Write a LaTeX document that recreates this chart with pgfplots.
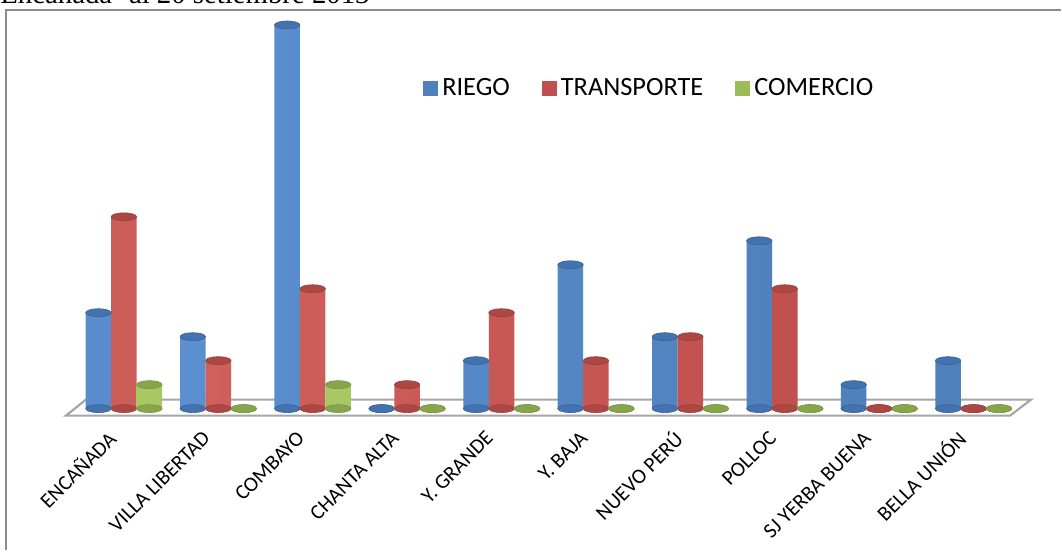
\documentclass[border=0pt]{standalone}
\usepackage{pgfplots}
\pgfplotsset{compat=1.18}
\usepackage{pgfplotstable}
\usepackage{fontspec}
\setmainfont{Carlito}
\newfontfamily\titlefont{Liberation Serif}

% series colours
\definecolor{bM}{HTML}{4F81BD}
\definecolor{bD}{HTML}{3A6398}
\definecolor{bL}{HTML}{5C8FD0}
\definecolor{bC}{HTML}{4372AE}
\definecolor{rM}{HTML}{C0504D}
\definecolor{rD}{HTML}{99403D}
\definecolor{rL}{HTML}{D0605C}
\definecolor{rC}{HTML}{AD4744}
\definecolor{gM}{HTML}{9BBB59}
\definecolor{gD}{HTML}{7C9547}
\definecolor{gL}{HTML}{AACB66}
\definecolor{gC}{HTML}{87A64B}
\definecolor{frame}{HTML}{8C8C8C}
\definecolor{floor}{HTML}{A6A6A6}

% rounded cylinder bodies: dark edges, light band left of centre
\pgfdeclarehorizontalshading{cylblue}{100bp}{color(0bp)=(bD); color(8bp)=(bM); color(30bp)=(bL); color(65bp)=(bM); color(88bp)=(bM); color(100bp)=(bD)}
\pgfdeclarehorizontalshading{cylred}{100bp}{color(0bp)=(rD); color(8bp)=(rM); color(30bp)=(rL); color(65bp)=(rM); color(88bp)=(rM); color(100bp)=(rD)}
\pgfdeclarehorizontalshading{cylgreen}{100bp}{color(0bp)=(gD); color(8bp)=(gM); color(30bp)=(gL); color(65bp)=(gM); color(88bp)=(gM); color(100bp)=(gD)}

% elliptic end of a cylinder
\pgfdeclareplotmark{cylend}{%
  \pgfpathellipse{\pgfpointorigin}{\pgfqpoint{6.375pt}{0pt}}{\pgfqpoint{0pt}{2pt}}%
  \pgfusepathqfillstroke}

\pgfplotstableread{
idx riego transporte comercio
0   4     8          1
1   3     2          0
2   16    5          1
3   0     1          0
4   2     4          0
5   6     2          0
6   3     3          0
7   7     5          0
8   1     0          0
9   2     0          0
}\datos

\begin{document}
\begin{tikzpicture}[x=0.5pt,y=0.5pt]
\fill[white] (0,0) rectangle (1062,551);

% heading above the chart area, its upper part falls beyond the page
\node[overlay, anchor=base west, inner sep=0pt, font=\titlefont\fontsize{14.4}{16}\selectfont]
  at (0,547) {Encañada- al 20 setiembre 2013};

% chart area border
\draw[frame, line width=1pt] (6,0) -- (6,541) -- (1062,541);

\begin{axis}[
  at={(26.5625pt,59pt)}, anchor=south west,
  x=47.25pt, y=12pt,
  xmin=-0.75, xmax=9.75, ymin=-1.0, ymax=16.6,
  enlargelimits=false, clip=false,
  axis line style={draw=none},
  major tick length=0pt,
  ytick=\empty,
  xtick={0,...,9},
  xticklabels={ENCAÑADA,VILLA LIBERTAD,COMBAYO,CHANTA ALTA,Y. GRANDE,Y. BAJA,NUEVO PERÚ,POLLOC,SJ YERBA BUENA,BELLA UNIÓN},
  xticklabel style={rotate=45, anchor=east, xshift=-1.5pt, yshift=3.5pt, font=\fontsize{10.5}{12}\selectfont},
  legend columns=3,
  legend style={draw=none, fill=none, at={(0.367,0.815)}, anchor=west,
    font=\fontsize{13.2}{15}\selectfont,
    /tikz/every even column/.append style={column sep=14pt}},
  legend image code/.code={\fill[#1, draw=none] (0pt,-3.75pt) rectangle (7.5pt,3.75pt);},
]
% floor of the plot area
\addplot[draw=floor, line width=1.1pt, fill=white, forget plot]
  coordinates {(-0.614,-0.292) (9.386,-0.292) (9.608,0.375) (-0.402,0.375)} -- cycle;

% lower ends of the cylinders
\addplot[only marks, mark=cylend, mark options={fill=bC, draw=bD, line width=0.3pt}, forget plot]
  table[x expr=\thisrow{idx}-0.2698, y expr=0]{\datos};
\addplot[only marks, mark=cylend, mark options={fill=rC, draw=rD, line width=0.3pt}, forget plot]
  table[x expr=\thisrow{idx}, y expr=0]{\datos};
\addplot[only marks, mark=cylend, mark options={fill=gC, draw=gD, line width=0.3pt}, forget plot]
  table[x expr=\thisrow{idx}+0.2698, y expr=0]{\datos};

% cylinder bodies
\addplot[ybar, bar width=12.75pt, bar shift=-12.75pt, draw=none, shading=cylblue, forget plot]
  table[x=idx, y=riego]{\datos};
\addplot[ybar, bar width=12.75pt, bar shift=0pt, draw=none, shading=cylred, forget plot]
  table[x=idx, y=transporte]{\datos};
\addplot[ybar, bar width=12.75pt, bar shift=12.75pt, draw=none, shading=cylgreen, forget plot]
  table[x=idx, y=comercio]{\datos};

% upper ends of the cylinders
\addplot[only marks, mark=cylend, mark options={fill=bC, draw=bD, line width=0.3pt}, forget plot]
  table[x expr=\thisrow{idx}-0.2698, y=riego]{\datos};
\addplot[only marks, mark=cylend, mark options={fill=rC, draw=rD, line width=0.3pt}, forget plot]
  table[x expr=\thisrow{idx}, y=transporte]{\datos};
\addplot[only marks, mark=cylend, mark options={fill=gC, draw=gD, line width=0.3pt}, forget plot]
  table[x expr=\thisrow{idx}+0.2698, y=comercio]{\datos};

\addlegendimage{fill=bM}
\addlegendentry{RIEGO}
\addlegendimage{fill=rM}
\addlegendentry{TRANSPORTE}
\addlegendimage{fill=gM}
\addlegendentry{COMERCIO}
\end{axis}
\end{tikzpicture}
\end{document}
